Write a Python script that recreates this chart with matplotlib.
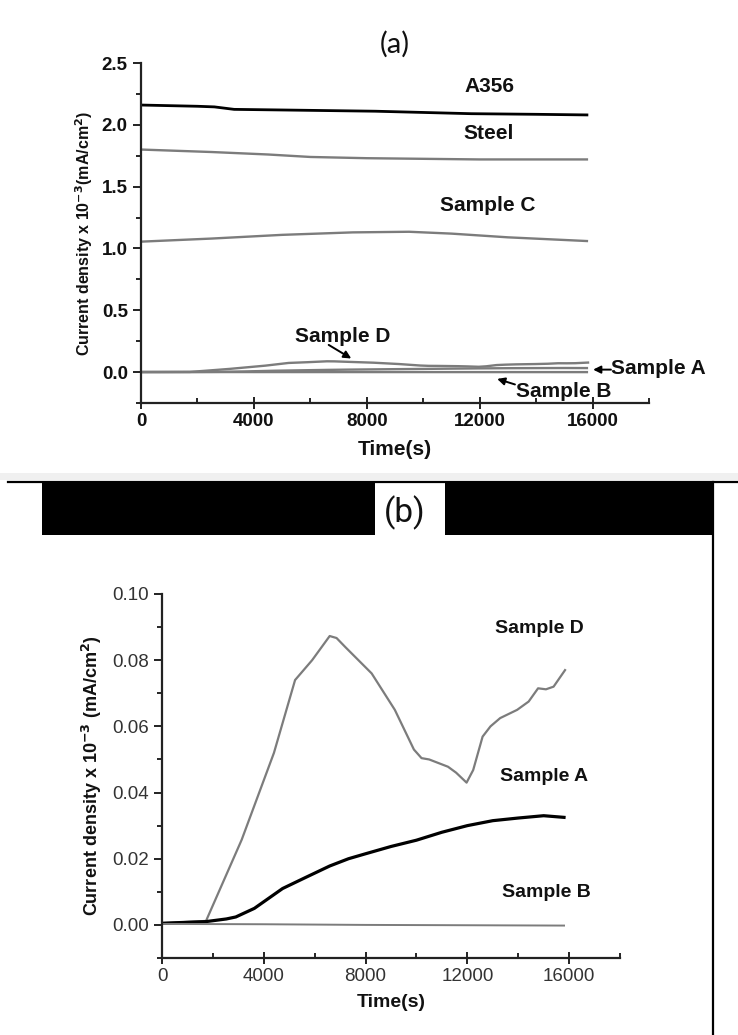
import matplotlib
matplotlib.use("Agg")
import matplotlib.pyplot as plt
from matplotlib.patches import Rectangle
from matplotlib.lines import Line2D
from matplotlib.ticker import MultipleLocator, FormatStrFormatter

plt.rcParams['font.family'] = ['Liberation Sans', 'DejaVu Sans']

# polarisation runs, current density x 10^-3 (mA/cm^2) against time (s)
t_a356 = [0, 1000, 2000, 2600, 3300, 5000, 8300, 11700, 14000, 15800]
a356 = [2.16, 2.155, 2.15, 2.145, 2.125, 2.12, 2.11, 2.09, 2.085, 2.08]

t_steel = [0, 2500, 4500, 6000, 8000, 10000, 12000, 15800]
steel = [1.80, 1.78, 1.76, 1.74, 1.73, 1.725, 1.72, 1.72]

t_c = [0, 2500, 5000, 7500, 9500, 11000, 13000, 15800]
samp_c = [1.055, 1.08, 1.11, 1.13, 1.135, 1.12, 1.09, 1.06]

t_d = [0, 1730, 3130, 4400, 5230, 5900, 6590, 6860, 7200, 8240, 9150, 9900,
       10200, 10500, 11240, 11560, 11970, 12230, 12600, 12910, 13290, 13960,
       14410, 14780, 15090, 15390, 15840]
samp_d = [0.0005, 0.0012, 0.0257, 0.052, 0.074, 0.080, 0.0873, 0.0867, 0.084,
          0.076, 0.065, 0.053, 0.0504, 0.050, 0.0478, 0.046, 0.043, 0.0468,
          0.0569, 0.060, 0.0625, 0.065, 0.0675, 0.0715, 0.0712, 0.072, 0.077]

t_a = [0, 1730, 2530, 2900, 3630, 4740, 5660, 6590, 7330, 8000, 9000, 10000,
       11000, 12000, 13000, 14000, 15000, 15800]
samp_a = [0.0005, 0.001, 0.0018, 0.0024, 0.005, 0.011, 0.0144, 0.0178, 0.020,
          0.0215, 0.0237, 0.0256, 0.028, 0.030, 0.0315, 0.0323, 0.033, 0.0325]

t_b = [0, 4000, 8000, 12000, 15800]
samp_b = [0.0003, 0.0002, 0.0, -0.0001, -0.0002]

GREY = '#7c7c7c'
INK = '#111111'

W, H = 738, 1035
fig = plt.figure(figsize=(W / 100, H / 100), dpi=100)


def box(x0, y0, x1, y1):
    # pixel box (top-left origin) -> figure fractions
    return [x0 / W, 1 - y1 / H, (x1 - x0) / W, (y1 - y0) / H]


def origin_style(ax, bold, size, colour):
    for s in ('top', 'right'):
        ax.spines[s].set_visible(False)
    for s in ('left', 'bottom'):
        ax.spines[s].set_linewidth(1.6)
        ax.spines[s].set_color('#222222')
    ax.tick_params(axis='y', which='major', direction='out', length=6, width=1.4)
    ax.tick_params(axis='y', which='minor', direction='out', length=3.5, width=1.2)
    ax.tick_params(axis='x', which='major', direction='inout', length=8, width=1.4)
    ax.tick_params(axis='x', which='minor', direction='in', length=3.5, width=1.2)
    ax.tick_params(labelsize=size, colors='#222222', labelcolor=colour)
    for lab in ax.get_xticklabels() + ax.get_yticklabels():
        lab.set_fontweight('bold' if bold else 'normal')


arr = dict(arrowstyle='-|>', color='black', lw=1.4, mutation_scale=11,
           shrinkA=0, shrinkB=0)

# ---- (a) all materials
ax1 = fig.add_axes(box(141, 63, 649, 403))
ax1.plot(t_a356, a356, color='black', lw=2.0)
ax1.plot(t_steel, steel, color=GREY, lw=1.7)
ax1.plot(t_c, samp_c, color=GREY, lw=1.7)
ax1.plot(t_d, samp_d, color=GREY, lw=1.7)
ax1.plot(t_a, samp_a, color=GREY, lw=1.7)
ax1.plot(t_b, samp_b, color=GREY, lw=1.7)
ax1.set_xlim(0, 18000)
ax1.set_ylim(-0.25, 2.5)
ax1.set_xticks([0, 4000, 8000, 12000, 16000])
ax1.xaxis.set_minor_locator(MultipleLocator(2000))
ax1.yaxis.set_major_locator(MultipleLocator(0.5))
ax1.yaxis.set_minor_locator(MultipleLocator(0.25))
ax1.yaxis.set_major_formatter(FormatStrFormatter('%.1f'))
origin_style(ax1, True, 13.5, INK)
ax1.set_xlabel('Time(s)', fontsize=15, fontweight='bold', color=INK, labelpad=7)
ax1.set_ylabel(r'Current density x 10$^{\mathbf{-3}}$(mA/cm$^{\mathbf{2}}$)',
               fontsize=11.5, fontweight='bold', color=INK, labelpad=5)

lab = dict(fontsize=15, fontweight='bold', color=INK, ha='center', va='center')
ax1.text(12350, 2.31, 'A356', **lab)
ax1.text(12300, 1.93, 'Steel', **lab)
ax1.text(12280, 1.345, 'Sample C', **lab)
ax1.text(7150, 0.29, 'Sample D', **lab)
ax1.annotate('', xy=(7450, 0.11), xytext=(6650, 0.22), arrowprops=arr)
ax1.text(16650, 0.025, 'Sample A', fontsize=15, fontweight='bold', color=INK,
         ha='left', va='center', clip_on=False)
ax1.annotate('', xy=(16020, 0.02), xytext=(16650, 0.02), arrowprops=arr,
             annotation_clip=False)
ax1.text(13300, -0.16, 'Sample B', fontsize=15, fontweight='bold', color=INK,
         ha='left', va='center')
ax1.annotate('', xy=(12620, -0.055), xytext=(13250, -0.10), arrowprops=arr)
fig.text(395 / W, 1 - 44 / H, '(a)', fontsize=21, color=INK,
         family=['Lato', 'DejaVu Sans'], ha='center', va='center')

# ---- frame of panel (b)
fig.add_artist(Rectangle((0, 1 - 480 / H), 1, 7 / H, transform=fig.transFigure,
                         color='#f0f0f0', lw=0))
fig.add_artist(Line2D([8 / W, 1], [1 - 482 / H] * 2, transform=fig.transFigure,
                      color='black', lw=1.6))
for x0, x1 in ((42, 375), (445, 713)):
    fig.add_artist(Rectangle((x0 / W, 1 - 535 / H), (x1 - x0) / W, 53 / H,
                             transform=fig.transFigure, color='black', lw=0))
fig.add_artist(Line2D([713 / W] * 2, [0, 1 - 482 / H], transform=fig.transFigure,
                      color='black', lw=1.6))
fig.text(405 / W, 1 - 513 / H, '(b)', fontsize=24, color=INK,
         family=['Roboto', 'DejaVu Sans'], ha='center', va='center')

# ---- (b) coated samples
ax2 = fig.add_axes(box(162, 594, 620, 958))
ax2.plot(t_d, samp_d, color=GREY, lw=1.6)
ax2.plot(t_a, samp_a, color='black', lw=2.3)
ax2.plot(t_b, samp_b, color=GREY, lw=1.4)
ax2.set_xlim(0, 18000)
ax2.set_ylim(-0.01, 0.10)
ax2.set_xticks([0, 4000, 8000, 12000, 16000])
ax2.xaxis.set_minor_locator(MultipleLocator(2000))
ax2.yaxis.set_major_locator(MultipleLocator(0.02))
ax2.yaxis.set_minor_locator(MultipleLocator(0.01))
ax2.yaxis.set_major_formatter(FormatStrFormatter('%.2f'))
origin_style(ax2, False, 13.5, '#333333')
ax2.set_xlabel('Time(s)', fontsize=14, fontweight='bold', color=INK, labelpad=6)
ax2.set_ylabel(r'Current density x 10$^{\mathbf{-3}}$ (mA/cm$^{\mathbf{2}}$)',
               fontsize=13, fontweight='bold', color=INK, labelpad=6)
lab2 = dict(fontsize=14, fontweight='bold', color=INK, ha='center', va='center')
ax2.text(14820, 0.0895, 'Sample D', **lab2)
ax2.text(15020, 0.0447, 'Sample A', **lab2)
ax2.text(15090, 0.0097, 'Sample B', **lab2)

fig.savefig('out.png', dpi=100)
